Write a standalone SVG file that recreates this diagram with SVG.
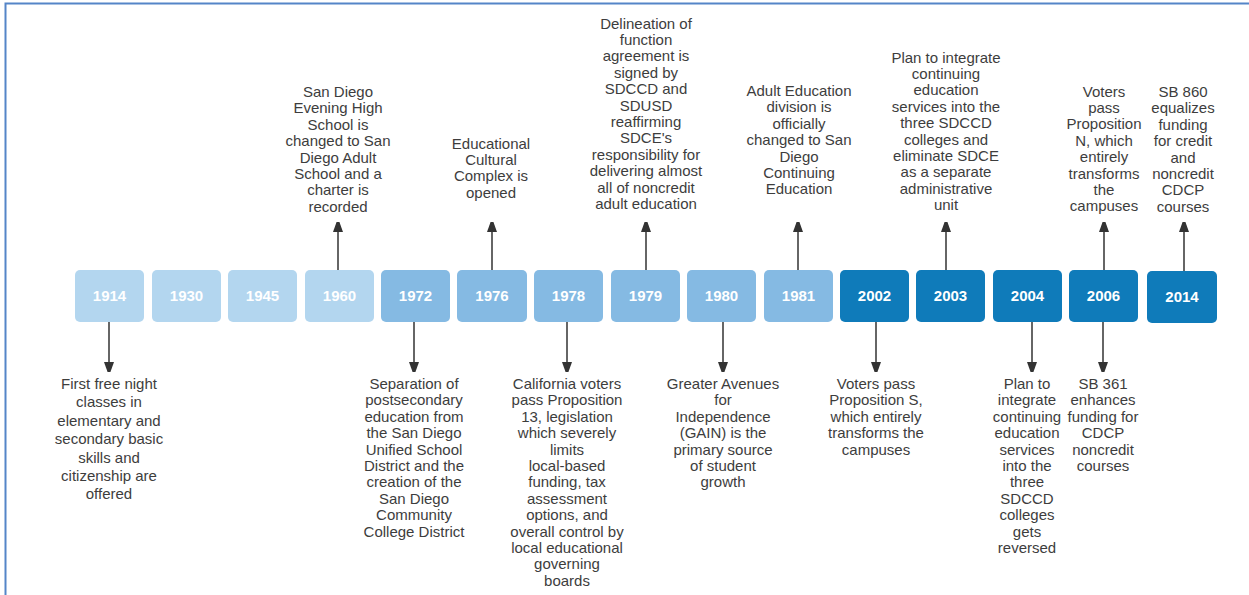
<svg xmlns="http://www.w3.org/2000/svg" width="1249" height="595" viewBox="0 0 1249 595">
<defs>
<marker id="ah" viewBox="0 0 10 14" refX="10" refY="5" markerWidth="10" markerHeight="14" markerUnits="userSpaceOnUse" orient="auto">
<path d="M0,0 L14,5 L0,10 Z" fill="#333"/>
</marker>
<style>
.yr{font-family:"Liberation Sans",Arial,sans-serif;font-size:15px;font-weight:bold;fill:#fff;text-anchor:middle}
.t{font-family:"Liberation Sans",Arial,sans-serif;font-size:15px;fill:#3d3d3d;text-anchor:middle}
.c1{fill:#b3d6ef}
.c2{fill:#85bae3}
.c3{fill:#0f7bba}
.ln{stroke:#333;stroke-width:1.5;fill:none}
</style>
</defs>
<rect width="1249" height="595" fill="#fff"/>
<path d="M5.5,595 V3.5 H1249" fill="none" stroke="#5585c8" stroke-width="2"/>

<g id="connectors">
<path class="ln" d="M338,270 V222" marker-end="url(#ah)"/>
<path class="ln" d="M492,270 V222" marker-end="url(#ah)"/>
<path class="ln" d="M646,270 V222" marker-end="url(#ah)"/>
<path class="ln" d="M798,270 V222" marker-end="url(#ah)"/>
<path class="ln" d="M946,270 V222" marker-end="url(#ah)"/>
<path class="ln" d="M1104,270 V222" marker-end="url(#ah)"/>
<path class="ln" d="M1184,271 V222" marker-end="url(#ah)"/>
<path class="ln" d="M109,322 V372" marker-end="url(#ah)"/>
<path class="ln" d="M414,322 V372" marker-end="url(#ah)"/>
<path class="ln" d="M567,322 V372" marker-end="url(#ah)"/>
<path class="ln" d="M723,322 V372" marker-end="url(#ah)"/>
<path class="ln" d="M876,322 V372" marker-end="url(#ah)"/>
<path class="ln" d="M1032,322 V372" marker-end="url(#ah)"/>
<path class="ln" d="M1103,322 V372" marker-end="url(#ah)"/>
</g>

<g id="y1914"><rect class="c1" x="75" y="270" width="69" height="52" rx="5"/><text class="yr" x="109.5" y="301">1914</text></g>
<g id="y1930"><rect class="c1" x="152" y="270" width="69" height="52" rx="5"/><text class="yr" x="186.5" y="301">1930</text></g>
<g id="y1945"><rect class="c1" x="228" y="270" width="69" height="52" rx="5"/><text class="yr" x="262.5" y="301">1945</text></g>
<g id="y1960"><rect class="c1" x="305" y="270" width="69" height="52" rx="5"/><text class="yr" x="339.5" y="301">1960</text></g>
<g id="y1972"><rect class="c2" x="381" y="270" width="69" height="52" rx="5"/><text class="yr" x="415.5" y="301">1972</text></g>
<g id="y1976"><rect class="c2" x="457" y="270" width="70" height="52" rx="5"/><text class="yr" x="492" y="301">1976</text></g>
<g id="y1978"><rect class="c2" x="534" y="270" width="69" height="52" rx="5"/><text class="yr" x="568.5" y="301">1978</text></g>
<g id="y1979"><rect class="c2" x="611" y="270" width="69" height="52" rx="5"/><text class="yr" x="645.5" y="301">1979</text></g>
<g id="y1980"><rect class="c2" x="687" y="270" width="69" height="52" rx="5"/><text class="yr" x="721.5" y="301">1980</text></g>
<g id="y1981"><rect class="c2" x="764" y="270" width="69" height="52" rx="5"/><text class="yr" x="798.5" y="301">1981</text></g>
<g id="y2002"><rect class="c3" x="840" y="270" width="69" height="52" rx="5"/><text class="yr" x="874.5" y="301">2002</text></g>
<g id="y2003"><rect class="c3" x="916" y="270" width="69" height="52" rx="5"/><text class="yr" x="950.5" y="301">2003</text></g>
<g id="y2004"><rect class="c3" x="993" y="270" width="69" height="52" rx="5"/><text class="yr" x="1027.5" y="301">2004</text></g>
<g id="y2006"><rect class="c3" x="1069" y="270" width="69" height="52" rx="5"/><text class="yr" x="1103.5" y="301">2006</text></g>
<g id="y2014"><rect class="c3" x="1147" y="271" width="70" height="52" rx="5"/><text class="yr" x="1182" y="302">2014</text></g>

<g id="t1960"><text class="t">
<tspan x="338" y="97">San Diego</tspan><tspan x="338" y="113.4">Evening High</tspan><tspan x="338" y="129.8">School is</tspan><tspan x="338" y="146.2">changed to San</tspan><tspan x="338" y="162.6">Diego Adult</tspan><tspan x="338" y="179">School and a</tspan><tspan x="338" y="195.4">charter is</tspan><tspan x="338" y="211.8">recorded</tspan></text></g>

<g id="t1976"><text class="t">
<tspan x="491" y="148.5">Educational</tspan><tspan x="491" y="164.9">Cultural</tspan><tspan x="491" y="181.3">Complex is</tspan><tspan x="491" y="197.7">opened</tspan></text></g>

<g id="t1979"><text class="t">
<tspan x="646" y="28.5">Delineation of</tspan><tspan x="646" y="44.9">function</tspan><tspan x="646" y="61.3">agreement is</tspan><tspan x="646" y="77.7">signed by</tspan><tspan x="646" y="94.1">SDCCD and</tspan><tspan x="646" y="110.5">SDUSD</tspan><tspan x="646" y="126.9">reaffirming</tspan><tspan x="646" y="143.3">SDCE's</tspan><tspan x="646" y="159.7">responsibility for</tspan><tspan x="646" y="176.1">delivering almost</tspan><tspan x="646" y="192.5">all of noncredit</tspan><tspan x="646" y="208.9">adult education</tspan></text></g>

<g id="t1981"><text class="t">
<tspan x="799" y="96">Adult Education</tspan><tspan x="799" y="112.4">division is</tspan><tspan x="799" y="128.8">officially</tspan><tspan x="799" y="145.2">changed to San</tspan><tspan x="799" y="161.6">Diego</tspan><tspan x="799" y="178">Continuing</tspan><tspan x="799" y="194.4">Education</tspan></text></g>

<g id="t2003"><text class="t">
<tspan x="946" y="62.5">Plan to integrate</tspan><tspan x="946" y="78.9">continuing</tspan><tspan x="946" y="95.3">education</tspan><tspan x="946" y="111.7">services into the</tspan><tspan x="946" y="128.1">three SDCCD</tspan><tspan x="946" y="144.5">colleges and</tspan><tspan x="946" y="160.9">eliminate SDCE</tspan><tspan x="946" y="177.3">as a separate</tspan><tspan x="946" y="193.7">administrative</tspan><tspan x="946" y="210.1">unit</tspan></text></g>

<g id="t2006top"><text class="t">
<tspan x="1104" y="96.5">Voters</tspan><tspan x="1104" y="112.9">pass</tspan><tspan x="1104" y="129.3">Proposition</tspan><tspan x="1104" y="145.7">N, which</tspan><tspan x="1104" y="162.1">entirely</tspan><tspan x="1104" y="178.5">transforms</tspan><tspan x="1104" y="194.9">the</tspan><tspan x="1104" y="211.3">campuses</tspan></text></g>

<g id="t2014"><text class="t">
<tspan x="1183" y="97">SB 860</tspan><tspan x="1183" y="113.4">equalizes</tspan><tspan x="1183" y="129.8">funding</tspan><tspan x="1183" y="146.2">for credit</tspan><tspan x="1183" y="162.6">and</tspan><tspan x="1183" y="179">noncredit</tspan><tspan x="1183" y="195.4">CDCP</tspan><tspan x="1183" y="211.8">courses</tspan></text></g>

<g id="t1914"><text class="t">
<tspan x="109" y="389">First free night</tspan><tspan x="109" y="407.4">classes in</tspan><tspan x="109" y="425.8">elementary and</tspan><tspan x="109" y="444.2">secondary basic</tspan><tspan x="109" y="462.6">skills and</tspan><tspan x="109" y="481">citizenship are</tspan><tspan x="109" y="499.4">offered</tspan></text></g>

<g id="t1972"><text class="t">
<tspan x="414" y="389">Separation of</tspan><tspan x="414" y="405.4">postsecondary</tspan><tspan x="414" y="421.8">education from</tspan><tspan x="414" y="438.2">the San Diego</tspan><tspan x="414" y="454.6">Unified School</tspan><tspan x="414" y="471">District and the</tspan><tspan x="414" y="487.4">creation of the</tspan><tspan x="414" y="503.8">San Diego</tspan><tspan x="414" y="520.2">Community</tspan><tspan x="414" y="536.6">College District</tspan></text></g>

<g id="t1978"><text class="t">
<tspan x="567" y="389">California voters</tspan><tspan x="567" y="405.4">pass Proposition</tspan><tspan x="567" y="421.8">13, legislation</tspan><tspan x="567" y="438.2">which severely</tspan><tspan x="567" y="454.6">limits</tspan><tspan x="567" y="471">local-based</tspan><tspan x="567" y="487.4">funding, tax</tspan><tspan x="567" y="503.8">assessment</tspan><tspan x="567" y="520.2">options, and</tspan><tspan x="567" y="536.6">overall control by</tspan><tspan x="567" y="553">local educational</tspan><tspan x="567" y="569.4">governing</tspan><tspan x="567" y="585.8">boards</tspan></text></g>

<g id="t1980"><text class="t">
<tspan x="723" y="389">Greater Avenues</tspan><tspan x="723" y="405.4">for</tspan><tspan x="723" y="421.8">Independence</tspan><tspan x="723" y="438.2">(GAIN) is the</tspan><tspan x="723" y="454.6">primary source</tspan><tspan x="723" y="471">of student</tspan><tspan x="723" y="487.4">growth</tspan></text></g>

<g id="t2002"><text class="t">
<tspan x="876" y="389">Voters pass</tspan><tspan x="876" y="405.4">Proposition S,</tspan><tspan x="876" y="421.8">which entirely</tspan><tspan x="876" y="438.2">transforms the</tspan><tspan x="876" y="454.6">campuses</tspan></text></g>

<g id="t2004"><text class="t">
<tspan x="1027" y="389">Plan to</tspan><tspan x="1027" y="405.4">integrate</tspan><tspan x="1027" y="421.8">continuing</tspan><tspan x="1027" y="438.2">education</tspan><tspan x="1027" y="454.6">services</tspan><tspan x="1027" y="471">into the</tspan><tspan x="1027" y="487.4">three</tspan><tspan x="1027" y="503.8">SDCCD</tspan><tspan x="1027" y="520.2">colleges</tspan><tspan x="1027" y="536.6">gets</tspan><tspan x="1027" y="553">reversed</tspan></text></g>

<g id="t2006bottom"><text class="t">
<tspan x="1103" y="389">SB 361</tspan><tspan x="1103" y="405.4">enhances</tspan><tspan x="1103" y="421.8">funding for</tspan><tspan x="1103" y="438.2">CDCP</tspan><tspan x="1103" y="454.6">noncredit</tspan><tspan x="1103" y="471">courses</tspan></text></g>
</svg>
